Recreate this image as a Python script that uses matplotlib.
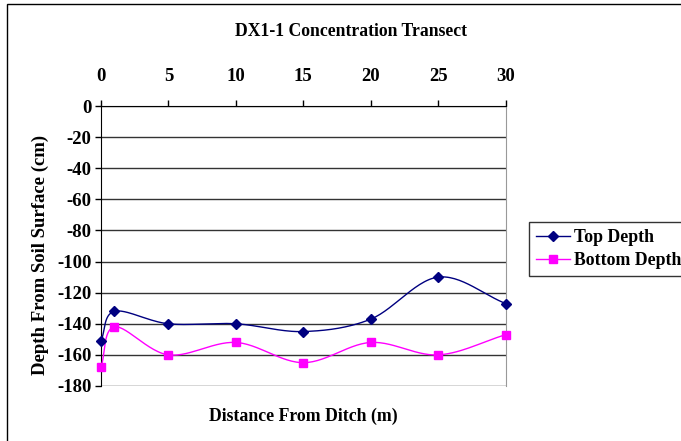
import numpy as np
import matplotlib
matplotlib.use("Agg")
import matplotlib.pyplot as plt
from matplotlib.patches import Rectangle

distance = [0, 1, 5, 10, 15, 20, 25, 30]
top_depth = [-151, -132, -140, -140, -145, -137, -110, -127]
bottom_depth = [-168, -142, -160, -152, -165, -152, -160, -147]
x_ticks = [0, 5, 10, 15, 20, 25, 30]
y_ticks = list(range(0, -181, -20))


def smooth(xs, ys, n=30):
    """Catmull-Rom style smoothed curve through the points."""
    xs = np.asarray(xs, float)
    ys = np.asarray(ys, float)
    px = np.concatenate([[2 * xs[0] - xs[1]], xs, [2 * xs[-1] - xs[-2]]])
    py = np.concatenate([[2 * ys[0] - ys[1]], ys, [2 * ys[-1] - ys[-2]]])
    outx, outy = [], []
    for i in range(1, len(px) - 2):
        t = np.linspace(0, 1, n)
        p0x, p1x, p2x, p3x = px[i - 1:i + 3]
        p0y, p1y, p2y, p3y = py[i - 1:i + 3]
        m1x, m2x = (p2x - p0x) / 6, (p3x - p1x) / 6
        m1y, m2y = (p2y - p0y) / 6, (p3y - p1y) / 6
        b0 = (1 - t) ** 3
        b1 = 3 * t * (1 - t) ** 2
        b2 = 3 * t ** 2 * (1 - t)
        b3 = t ** 3
        outx.extend(b0 * p1x + b1 * (p1x + m1x) + b2 * (p2x - m2x) + b3 * p2x)
        outy.extend(b0 * p1y + b1 * (p1y + m1y) + b2 * (p2y - m2y) + b3 * p2y)
    return np.array(outx), np.array(outy)


plt.rcParams["font.family"] = ["Liberation Serif", "DejaVu Serif"]
plt.rcParams["font.weight"] = "bold"
plt.rcParams["axes.unicode_minus"] = False

fig = plt.figure(figsize=(6.81, 4.41), dpi=100)
fig.patches.append(Rectangle((7 / 681, -0.1), 1.2, 1 - 4 / 441 + 0.1,
                             transform=fig.transFigure, fill=False,
                             edgecolor="black", linewidth=1.0))

ax = fig.add_axes([101 / 681, 1 - 386 / 441, (505.7 - 101) / 681, 280 / 441])

navy = "#000080"
magenta = "#ff00ff"

sx, sy = smooth(distance, top_depth)
ax.plot(sx, sy, color=navy, linewidth=1.0, zorder=3, clip_on=False)
ax.plot(distance, top_depth, linestyle="none", marker="D", markersize=5,
        color=navy, zorder=4, clip_on=False)
bx, by = smooth(distance, bottom_depth)
ax.plot(bx, by, color=magenta, linewidth=1.0, zorder=3, clip_on=False)
ax.plot(distance, bottom_depth, linestyle="none", marker="s", markersize=6,
        color=magenta, zorder=4, clip_on=False)

# legend handles
ax.plot([], [], color=navy, marker="D", markersize=5, linewidth=1.0, label="Top Depth")
ax.plot([], [], color=magenta, marker="s", markersize=6, linewidth=1.0, label="Bottom Depth")

ax.set_xlim(0, 30)
ax.set_ylim(-180, 0)
ax.xaxis.tick_top()
ax.xaxis.set_label_position("bottom")
ax.set_xticks(x_ticks)
ax.set_yticks(y_ticks)
ax.tick_params(axis="x", direction="out", length=4, width=1, pad=11, labelsize=13.5)
ax.tick_params(axis="y", direction="out", length=4, width=1, pad=3, labelsize=13.5)
for lab in ax.get_xticklabels() + ax.get_yticklabels():
    lab.set_fontweight("bold")

for y in y_ticks:
    ax.axhline(y, color="#333333", linewidth=1.0, zorder=1)

ax.spines["left"].set_color("black")
ax.spines["top"].set_color("black")
ax.spines["right"].set_color("#999999")
ax.spines["bottom"].set_visible(False)

fig.text(351 / 681, 1 - 31 / 441, "DX1-1 Concentration Transect",
         ha="center", va="center", fontsize=12.7, fontweight="bold")
fig.text(303 / 681, 1 - 416 / 441, "Distance From Ditch (m)",
         ha="center", va="center", fontsize=12.8, fontweight="bold")
fig.text(40 / 681, 1 - 255 / 441, "Depth From Soil Surface (cm)",
         ha="center", va="center", rotation=90, fontsize=13.5, fontweight="bold")

leg = fig.legend(loc="upper left", bbox_to_anchor=(529 / 681, 1 - 222 / 441),
                 frameon=True, fancybox=False, edgecolor="black",
                 prop={"weight": "bold", "size": 12.8}, handlelength=1.9,
                 borderpad=0.4, labelspacing=0.35, handletextpad=0.25,
                 borderaxespad=0)
leg.get_frame().set_linewidth(1.0)

fig.savefig("out.png", dpi=100)
